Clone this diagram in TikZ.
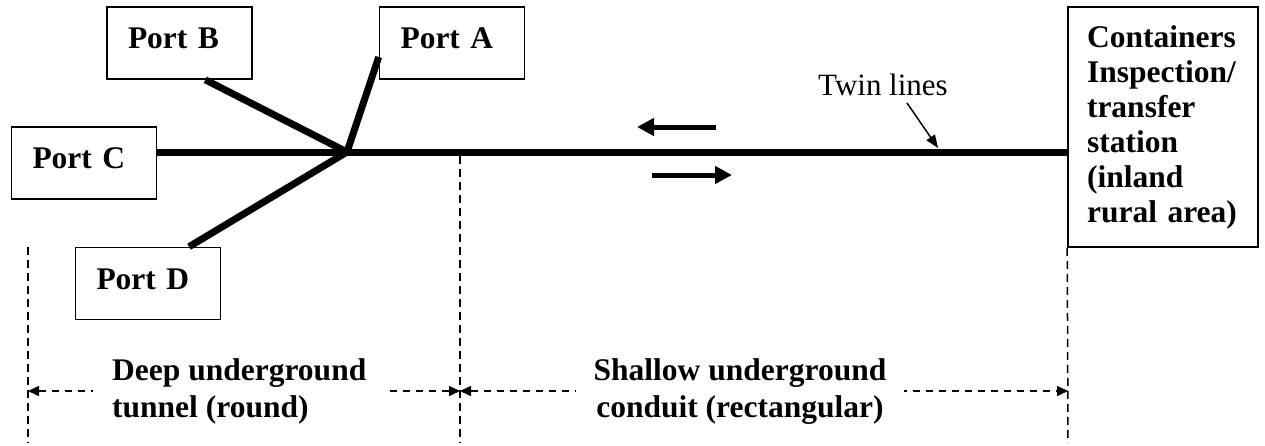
\documentclass[tikz,border=0pt]{standalone}
\usepackage{fontspec}
\setmainfont{Liberation Serif}
\usetikzlibrary{arrows.meta,calc}
\begin{document}
\begin{tikzpicture}[x=1pt,y=-1pt,
  bigfont/.style={font=\bfseries\fontsize{31.5}{35}\selectfont},
  portbox/.style={bigfont, draw, line width=1.6pt, fill=white,
    minimum height=72pt, text width=103pt, inner xsep=21pt, inner ysep=0pt,
    align=left, text height=21pt, text depth=10pt},
  stationbox/.style={bigfont, draw, line width=1.6pt, fill=white,
    minimum height=240pt, text width=152pt, inner xsep=19pt, inner ysep=0pt,
    align=left},
  rail/.style={line width=7pt},
  flow/.style={line width=5pt, -{Triangle[length=17pt,width=17pt]}},
  pointer/.style={line width=1.5pt, -{Triangle[length=13pt,width=10pt]}},
  guide/.style={line width=1.5pt, dash pattern=on 8pt off 5pt},
  dim/.style={line width=1.5pt, dash pattern=on 7pt off 6pt,
    {Triangle[length=11pt,width=10pt]}-{Triangle[length=11pt,width=10pt]}},
  dimlabel/.style={font=\bfseries\fontsize{31.5}{37}\selectfont, fill=white,
    inner ysep=0pt}
]
\useasboundingbox (0,0) rectangle (1265,445);

% ports and inland station
\node[portbox] (B) at (179.5,43) {Port B};
\node[portbox] (A) at (452,43) {Port A};
\node[portbox] (C) at (84,163) {Port C};
\node[portbox] (D) at (148,283.5) {Port D};
\node[stationbox] (S) at (1163,127) {Containers\\Inspection/\\transfer\\station\\(inland\\rural area)};

% junction of the branch lines
\coordinate (J) at (347,152);
\draw[rail] (C.east |- J) -- (S.west |- J);
\draw[rail] ($(B.south west)!0.676!(B.south east)$) -- (J);
\draw[rail] ($(A.north west)!0.69!(A.south west)$) -- (J);
\draw[rail] ($(D.north west)!0.78!(D.north east)$) -- (J);

% travel directions on the twin lines
\coordinate (w0) at (716,127);
\coordinate (w1) at (637,127);
\coordinate (e0) at (652,175);
\coordinate (e1) at (732,175);
\draw[flow] (w0) -- (w1);
\draw[flow] (e0) -- (e1);

% twin lines callout
\node[font=\fontsize{31}{36}\selectfont, anchor=base, inner sep=0pt] (tw) at (883,95) {Twin lines};
\coordinate (tw0) at (907,103);
\coordinate (tw1) at (938,148);
\draw[pointer] (tw0) -- (tw1);

% section boundaries
\coordinate (L0) at (28,247);
\coordinate (L1) at (28,443);
\coordinate (M0) at (460,156);
\coordinate (M1) at (460,443);
\coordinate (R1) at (1068,443);
\draw[guide] (L0) -- (L1);
\draw[guide] (M0) -- (M1);
\draw[guide] (S.south west) -- (R1);

% section extents
\coordinate (dl) at (28,391);
\coordinate (dm) at (460,391);
\coordinate (dr) at (1068,391);
\draw[dim] (dl) -- (dm);
\draw[dim] (dm) -- (dr);
\node[dimlabel, anchor=west, inner xsep=19pt, align=left] (deep) at (93,391.5)
  {Deep underground\\tunnel (round)};
\node[dimlabel, inner xsep=18pt, align=center] (shallow) at (740,391.5)
  {Shallow underground\\conduit (rectangular)};
\end{tikzpicture}
\end{document}
